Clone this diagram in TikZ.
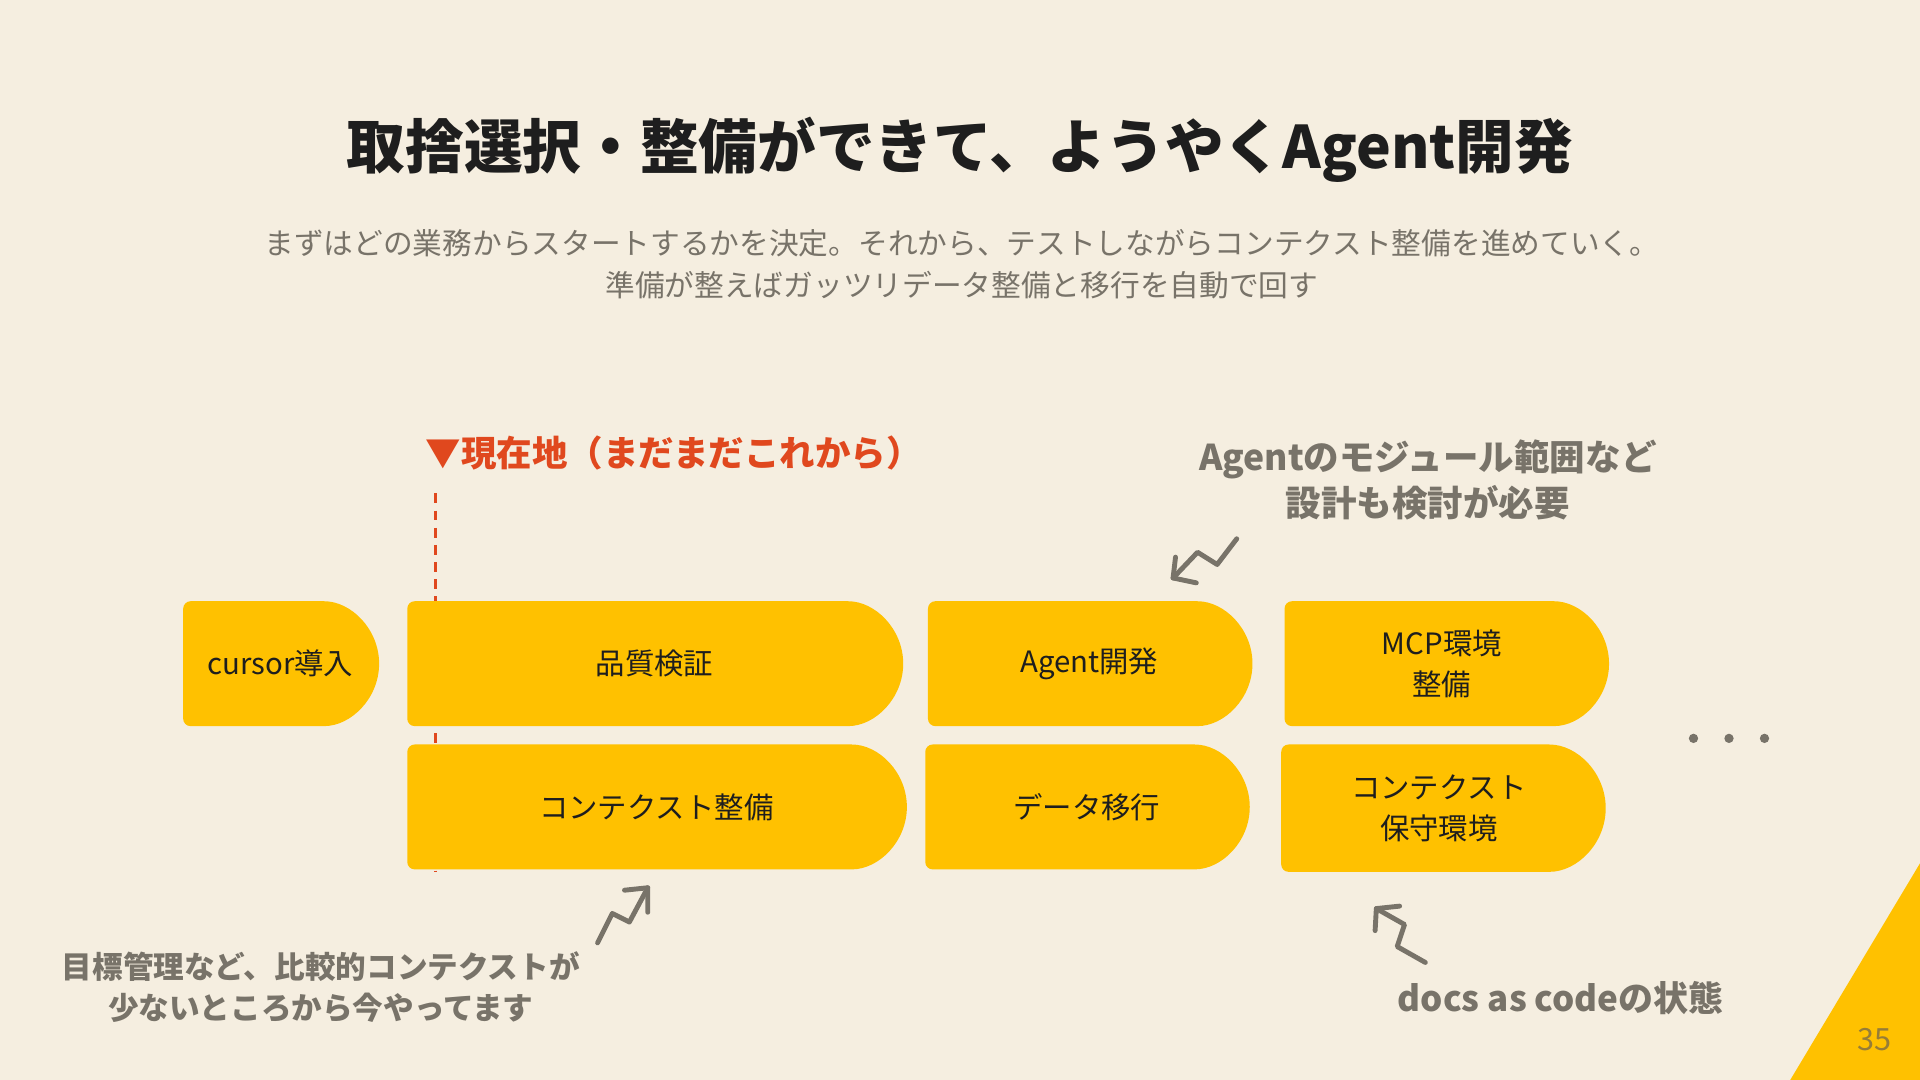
\documentclass[tikz,border=0pt]{standalone}
\usepackage{fontspec}
\setmainfont{Noto Sans CJK JP}
\usetikzlibrary{shapes.misc}
\definecolor{bgc}{RGB}{245,238,224}
\definecolor{yel}{RGB}{255,193,0}
\definecolor{ink}{RGB}{30,30,30}
\definecolor{graytxt}{RGB}{120,115,105}
\definecolor{redtxt}{RGB}{224,72,30}
\definecolor{pagenum}{RGB}{150,125,55}
\tikzset{
  pill/.style={shape=rounded rectangle, rounded rectangle left arc=none, fill=yel, rounded corners=6pt,
    inner sep=0pt, align=center, text=ink, font=\fontsize{24}{33}\selectfont},
  squig/.style={draw=graytxt, line width=4pt, line cap=round, line join=round},
  note/.style={text=graytxt, font=\bfseries\fontsize{29}{38}\selectfont, align=center}
}
\begin{document}
\begin{tikzpicture}[x=1pt,y=-1pt]
\fill[bgc] (0,0) rectangle (1568,882);
\useasboundingbox (0,0) rectangle (1568,882);
% triangle
\fill[yel] (1568,705) -- (1568,882) -- (1462,882) -- cycle;
\node[text=pagenum, font=\fontsize{25}{25}\selectfont] (pg) at (1531,849) {35};
% title
\node[text=ink, font=\bfseries\fontsize{47.9}{48}\selectfont] (title) at (784,122) {取捨選択・整備ができて、ようやくAgent開発};
\node[text=graytxt, font=\fontsize{24.25}{34}\selectfont, align=center] (sub) at (785.5,216)
  {まずはどの業務からスタートするかを決定。それから、テストしながらコンテクスト整備を進めていく。\\準備が整えばガッツリデータ整備と移行を自動で回す};
% current position
\node[text=redtxt, font=\bfseries\fontsize{29}{29}\selectfont, anchor=west] (now) at (344,370) {▼現在地（まだまだこれから）};
\coordinate (dtop) at (356,403);
\coordinate (dbot) at (356,712);
\draw[redtxt, line width=2.5pt, dash pattern=on 8pt off 6pt] (dtop) -- (dbot);
% boxes
\node[pill, minimum width=160pt, minimum height=102pt] (cursor) at (229,542) {cursor導入};
\node[pill, minimum width=405pt, minimum height=102pt] (qa) at (534.5,542) {品質検証};
\node[pill, minimum width=408pt, minimum height=102pt] (ctx) at (536,659) {コンテクスト整備};
\node[pill, minimum width=265pt, minimum height=102pt] (agent) at (889.5,542) {Agent開発};
\node[pill, minimum width=265pt, minimum height=102pt] (data) at (887.5,659) {データ移行};
\node[pill, minimum width=265pt, minimum height=102pt] (mcp) at (1177.5,542) {MCP環境\\整備};
\node[pill, minimum width=265pt, minimum height=104pt] (ctxenv) at (1175,660) {コンテクスト\\保守環境};
% dots
\foreach \i/\xx in {1/1383,2/1412,3/1441}{\fill[graytxt] (\xx,603) circle (3.8pt);}
% notes
\node[note] (noteA) at (1166,392) {Agentのモジュール範囲など\\設計も検討が必要};
\node[note, font=\bfseries\fontsize{25}{34}\selectfont] (noteB) at (262,806) {目標管理など、比較的コンテクストが\\少ないところから今やってます};
\node[note, font=\bfseries\fontsize{28.6}{29}\selectfont, anchor=west] (noteC) at (1138,815) {docs as codeの状態};
% squiggle arrows
\coordinate (a1) at (1010,440); \coordinate (a2) at (994,461); \coordinate (a3) at (978,451); \coordinate (a4) at (958,472);
\coordinate (a5) at (960,455); \coordinate (a6) at (977,476);
\draw[squig] (a1) -- (a2) -- (a3) -- (a4);
\draw[squig] (a5) -- (a4) -- (a6);
\coordinate (b1) at (488,770); \coordinate (b2) at (500,746); \coordinate (b3) at (514,753); \coordinate (b4) at (529,725);
\coordinate (b5) at (510,727); \coordinate (b6) at (529,745);
\draw[squig] (b1) -- (b2) -- (b3) -- (b4);
\draw[squig] (b5) -- (b4) -- (b6);
\coordinate (c1) at (1164,786); \coordinate (c2) at (1141,773); \coordinate (c3) at (1147,755); \coordinate (c4) at (1124,742);
\coordinate (c5) at (1143,740); \coordinate (c6) at (1123,760);
\draw[squig] (c1) -- (c2) -- (c3) -- (c4);
\draw[squig] (c5) -- (c4) -- (c6);
\end{tikzpicture}
\end{document}
